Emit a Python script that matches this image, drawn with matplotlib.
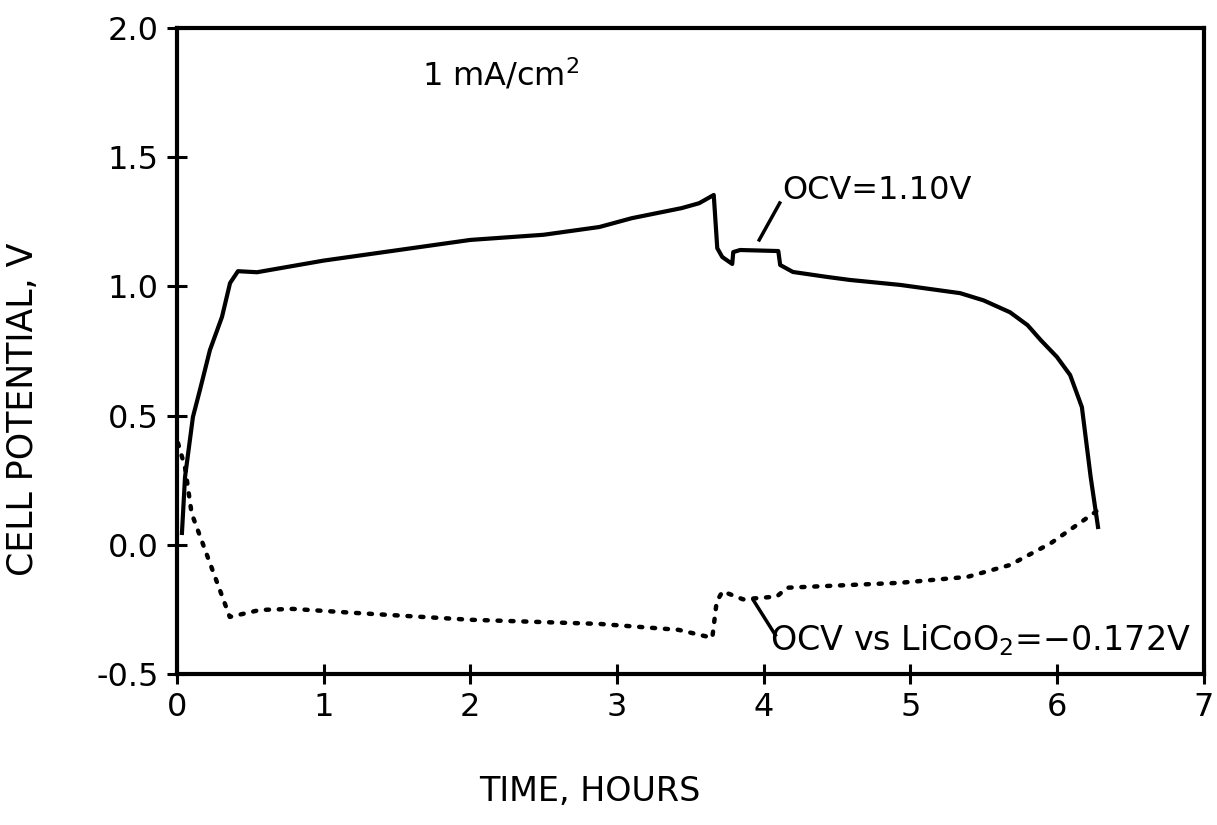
import matplotlib
matplotlib.use("Agg")
import matplotlib.pyplot as plt

plt.rcParams['font.family'] = ['DejaVu Sans']
plt.rcParams['mathtext.default'] = 'regular'

# cell potential (solid), hours / volts
cell_t = [0.034, 0.055, 0.109, 0.157, 0.225, 0.307, 0.362, 0.416, 0.546, 1.0, 1.5,
          2.0, 2.5, 2.88, 3.10, 3.44, 3.56, 3.66, 3.684, 3.718, 3.786, 3.793, 3.84,
          4.10, 4.113, 4.20, 4.43, 4.59, 4.93, 5.34, 5.50, 5.68, 5.80, 5.89, 6.00,
          6.09, 6.17, 6.23, 6.28]
cell_v = [0.046, 0.262, 0.495, 0.60, 0.754, 0.882, 1.013, 1.059, 1.055, 1.10, 1.14,
          1.18, 1.20, 1.23, 1.264, 1.303, 1.322, 1.354, 1.148, 1.114, 1.087, 1.133, 1.141,
          1.137, 1.083, 1.056, 1.037, 1.025, 1.006, 0.974, 0.946, 0.90, 0.85, 0.792, 0.727,
          0.657, 0.533, 0.262, 0.069]

# electrode vs LiCoO2 (dotted)
ref_t = [0.007, 0.055, 0.10, 0.36, 0.566, 0.79, 1.2, 2.0, 2.88, 3.42, 3.65, 3.68,
         3.72, 3.86, 4.09, 4.16, 4.93, 5.39, 5.68, 5.96, 6.28]
ref_v = [0.394, 0.30, 0.122, -0.279, -0.252, -0.248, -0.263, -0.29, -0.306, -0.329,
         -0.36, -0.22, -0.18, -0.211, -0.20, -0.166, -0.147, -0.124, -0.078, 0.007, 0.134]

y_ticks = [-0.5, 0.0, 0.5, 1.0, 1.5, 2.0]
y_labels = ['-0.5', '0.0', '0.5', '1.0', '1.5', '2.0']

fig = plt.figure(figsize=(12.17, 8.25), dpi=100)
ax = fig.add_axes([0.1454, 0.183, 0.8436, 0.783])

ax.plot(cell_t, cell_v, color='black', lw=3.0, solid_joinstyle='round')
ax.plot(ref_t, ref_v, color='black', lw=3.2, linestyle=(0, (0.7, 2.2)),
        dash_capstyle='round')

ax.set_xlim(0, 7)
ax.set_ylim(-0.5, 2.0)
ax.set_xticks(range(0, 8))
ax.set_yticks(y_ticks)
ax.set_yticklabels(y_labels)
ax.tick_params(direction='inout', length=14, width=2.2, labelsize=23, pad=6)
for s in ax.spines.values():
    s.set_linewidth(3)

ax.set_xlabel('TIME, HOURS', fontsize=24)
ax.xaxis.set_label_coords(0.402, -0.156)
ax.set_ylabel('CELL POTENTIAL, V', fontsize=25)
ax.yaxis.set_label_coords(-0.133, 0.41)

ax.text(2.21, 1.82, '1 mA/cm$^2$', fontsize=23, ha='center', va='center')
ax.text(4.13, 1.373, 'OCV=1.10V', fontsize=23, ha='left', va='center')
ax.plot([4.11, 3.97], [1.323, 1.18], color='black', lw=2.5)
ax.text(4.045, -0.368, 'OCV vs LiCoO$_2$=\u22120.172V', fontsize=24, ha='left', va='center')
ax.plot([3.93, 4.08], [-0.214, -0.349], color='black', lw=2.5)

fig.savefig('out.png', dpi=100)
